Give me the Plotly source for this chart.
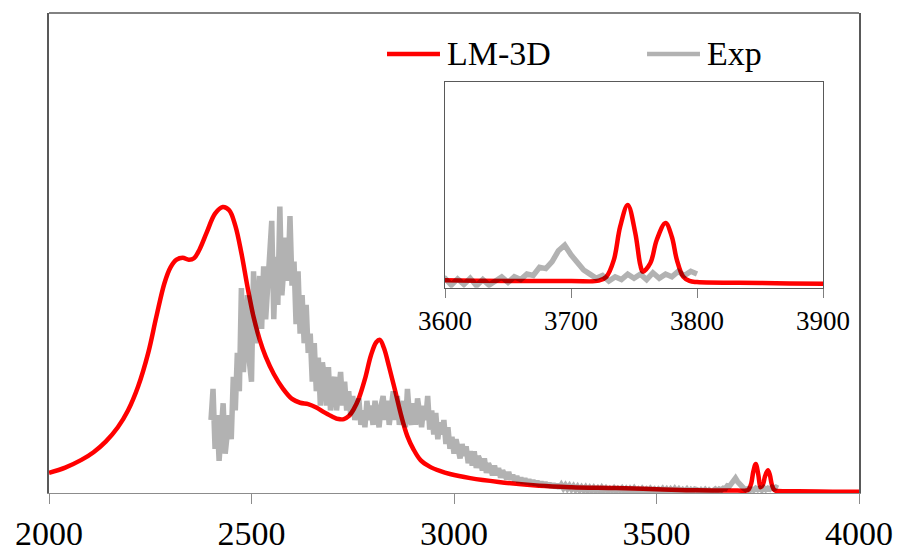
import plotly.graph_objects as go

# LM-3D simulated spectrum: wavenumber (cm-1) and intensity (a.u.)
lm3d_wavenumber = [2000, 2040, 2080, 2110, 2140, 2170, 2195, 2220, 2245, 2265,
                   2285, 2300, 2315, 2330, 2345, 2358, 2372, 2390, 2410, 2429,
                   2445, 2460, 2475, 2490, 2505, 2520, 2535, 2555, 2578, 2600,
                   2620, 2640, 2660, 2680, 2700, 2715, 2728, 2740, 2752, 2765,
                   2780, 2795, 2808, 2817, 2827, 2840, 2855, 2870, 2885, 2900,
                   2918, 2940, 2965, 2990, 3040, 3110, 3210, 3290, 3400, 3500,
                   3600, 3700, 3722, 3728, 3734, 3739, 3745, 3751, 3755, 3757,
                   3763, 3768, 3775, 3780, 3784, 3789, 3794, 3800, 3850, 3900,
                   3950, 4000]
lm3d_intensity = [4.0, 5.1, 6.7, 8.3, 10.5, 13.5, 17.0, 22.0, 29.0, 36.5,
                  43.5, 46.8, 48.4, 48.8, 48.4, 48.7, 50.6, 54.2, 58.0, 59.4,
                  58.7, 55.5, 49.8, 42.8, 36.5, 31.8, 28.2, 24.6, 21.5, 19.4,
                  18.6, 18.3, 17.6, 16.6, 15.7, 15.2, 15.2, 15.8, 17.2, 19.5,
                  23.5, 28.5, 31.2, 31.7, 30.0, 26.0, 21.0, 15.8, 11.6, 8.9,
                  6.6, 5.3, 4.4, 3.75, 2.9, 2.1, 1.3, 1.0, 0.82, 0.6,
                  0.35, 0.3, 0.32, 0.6, 1.83, 4.25, 5.83, 3.79, 1.46, 0.98,
                  1.61, 3.28, 4.52, 3.52, 1.83, 0.61, 0.3, 0.22, 0.15, 0.1,
                  0.08, 0.06]

# Experimental spectrum, sampled every 5 cm-1 from 2400 to 3800 cm-1
exp_start = 2400
exp_step = 5
exp_intensity = [
    15, 21.5, 9, 16, 6.5, 11, 18.5, 8, 13, 16,                # 2400
    11, 24, 17, 29, 21, 42.5, 25, 33, 41, 27,                 # 2450
    23, 46, 31, 38, 45, 34, 47, 36, 44, 50,                   # 2500
    56.5, 36, 49, 39, 59.5, 41, 50, 53, 44, 57.5,             # 2550
    43, 48, 35, 46, 33, 41, 31, 39, 29, 33,                   # 2600
    23, 31, 21, 28, 18, 27, 24, 18, 26, 17,                   # 2650
    22, 24, 17, 20, 25, 18, 23, 17, 21, 16,                   # 2700
    20, 15, 18, 19.5, 14, 17, 13.5, 19, 15, 18,               # 2750
    14, 19, 16, 13.5, 18, 20, 15, 19, 14, 18,                 # 2800
    21, 15, 20, 14, 17, 19, 13.5, 21.5, 16, 14,               # 2850
    18.5, 14, 19.5, 16, 13.5, 18, 15, 20, 13, 17,             # 2900
    12, 16.5, 11, 14.5, 12, 15, 10, 13.5, 9, 11.5,            # 2950
    8, 11, 9.5, 7, 10, 7.5, 9.5, 6, 8.5, 5.5,                 # 3000
    8.5, 5, 7.5, 6.5, 4.5, 7, 4, 6, 5, 3.5,                   # 3050
    5.5, 3.5, 5, 3, 4.5, 3.8, 2.7, 4.2, 2.6, 3.6,             # 3100
    2.3, 3.3, 2, 3, 1.8, 2.8, 1.7, 2.6, 1.6, 2.4,             # 3150
    1.5, 2.3, 1.3, 2.1, 1.2, 2.0, 1.1, 1.8, 1.0, 1.7,         # 3200
    0.9, 1.6, 0.8, 1.5, 0.8, 1.4, 0.7, 1.3, 0.6, 1.2,         # 3250
    0.5, 1.1, 0.4, 1.0, 0.4, 1.0, 0.3, 0.9, 0.3, 0.9,         # 3300
    0.3, 0.8, 0.2, 0.9, 0.3, 0.8, 0.2, 0.7, 0.3, 0.8,         # 3350
    0.2, 0.7, 0.3, 0.8, 0.2, 0.7, 0.1, 0.7, 0.2, 0.8,         # 3400
    0.2, 0.6, 0.1, 0.7, 0.2, 0.6, 0.1, 0.7, 0.2, 0.6,         # 3450
    0.1, 0.6, 0.2, 0.7, 0.1, 0.6, 0.0, 0.6, 0.1, 0.7,         # 3500
    0.1, 0.6, 0.0, 0.5, 0.1, 0.6, 0.0, 0.5, 0.1, 0.6,         # 3550
    0.5, 0.0, 0.45, 0.05, 0.5, -0.05, 0.4, 0.0, 0.3, 0.6,     # 3600
    0.2, 0.6, 0.4, 0.8, 0.7, 1.3, 1.2, 1.7, 2.5, 2.9,         # 3650
    2.2, 1.6, 1.1, 0.8, 0.5, 0.7, 0.3, 0.6, 0.4, 0.8,         # 3700
    0.5, 0.8, 0.4, 0.9, 0.5, 0.8, 0.6, 1.0, 0.7, 1.0,         # 3750
    0.8,                                                      # 3800
]
exp_wavenumber = [exp_start + i * exp_step for i in range(len(exp_intensity))]

main_ticks = [2000, 2500, 3000, 3500, 4000]
inset_ticks = [3600, 3700, 3800, 3900]

RED = "#ff0000"
GRAY = "rgba(0,0,0,0.3)"
FONT = "Liberation Serif"

fig = go.Figure()

for xa, ya in (("x", "y"), ("x2", "y2")):
    fig.add_trace(go.Scatter(
        x=lm3d_wavenumber, y=lm3d_intensity, mode="lines", name="LM-3D",
        line=dict(color=RED, width=4.5, shape="spline", smoothing=1.0),
        xaxis=xa, yaxis=ya, showlegend=False, hoverinfo="skip"))
    fig.add_trace(go.Scatter(
        x=exp_wavenumber, y=exp_intensity, mode="lines", name="Exp",
        line=dict(color=GRAY, width=5.5),
        xaxis=xa, yaxis=ya, showlegend=False, hoverinfo="skip"))

fig.update_layout(
    width=901, height=553,
    margin=dict(l=49, r=42, t=13, b=60),
    plot_bgcolor="white", paper_bgcolor="white",
    font=dict(family=FONT, color="black"),
    showlegend=False,
    xaxis=dict(range=[2000, 4000], tickvals=main_ticks, ticks="outside",
               ticklen=10, tickcolor="#8c8c8c", tickwidth=1.3,
               showline=True, linecolor="#8c8c8c", linewidth=1.3,
               showgrid=False, zeroline=False, tickfont=dict(size=34),
               automargin=False),
    yaxis=dict(range=[-0.2, 99.8], showticklabels=False, ticks="",
               showgrid=False, zeroline=False, showline=True, mirror=True,
               linecolor="#595959", linewidth=1.5, automargin=False),
    xaxis2=dict(domain=[0.4889, 0.9556], anchor="y2", range=[3600, 3900],
                tickvals=inset_ticks, ticks="outside", ticklen=9,
                tickcolor="#7f7f7f", showline=True, mirror=True,
                linecolor="#595959", linewidth=1.3, showgrid=False,
                zeroline=False, tickfont=dict(size=27), automargin=False),
    yaxis2=dict(domain=[0.4277, 0.8563], anchor="x2", range=[-0.19, 14.77],
                showticklabels=False, ticks="", showgrid=False, zeroline=False,
                showline=True, mirror=True, linecolor="#595959", linewidth=1.3,
                automargin=False),
)

# frame top edge of the main panel
fig.add_shape(type="line", xref="paper", yref="paper", x0=0, x1=1, y0=1, y1=1,
              line=dict(color="#595959", width=1.5))

# legend: line samples and labels
legend_y = 0.9146
for x0, x1, color, label, tx in ((0.4173, 0.4827, RED, "LM-3D", 0.4889),
                                 (0.7383, 0.8037, GRAY, "Exp", 0.8099)):
    fig.add_shape(type="line", xref="paper", yref="paper", x0=x0, x1=x1,
                  y0=legend_y, y1=legend_y, line=dict(color=color, width=4.5))
    fig.add_annotation(text=label, xref="paper", yref="paper", x=tx, y=legend_y,
                       xanchor="left", yanchor="middle", showarrow=False,
                       font=dict(size=34, family=FONT, color="black"))

fig.write_html("out.html")
